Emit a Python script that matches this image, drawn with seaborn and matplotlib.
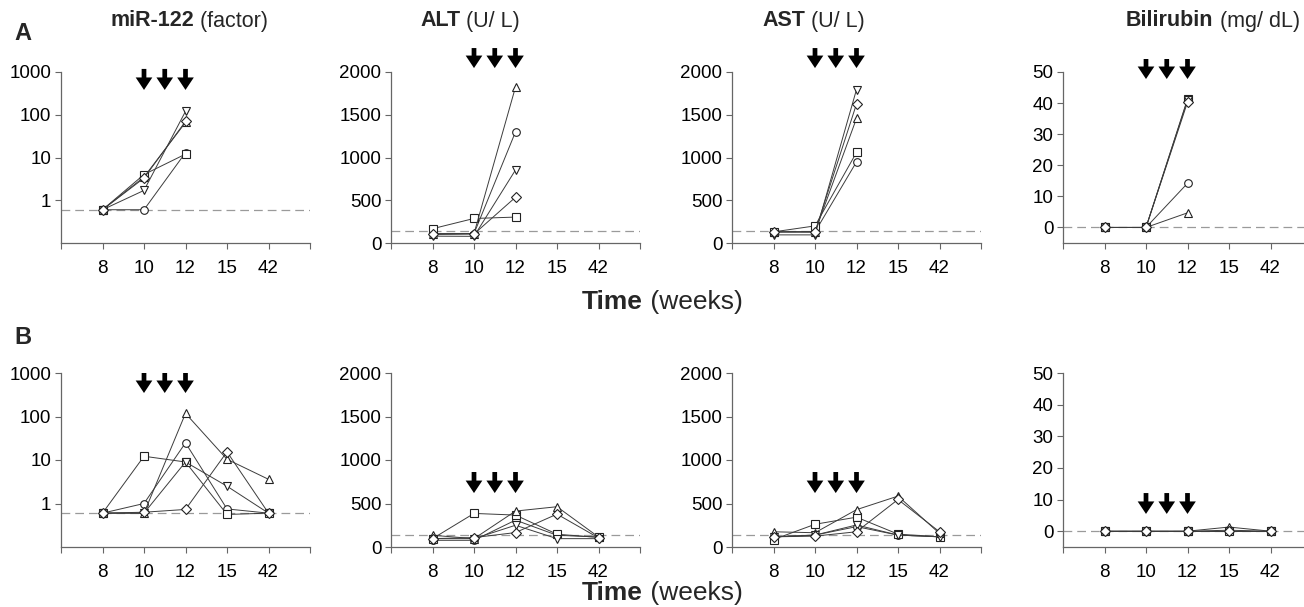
import numpy as np
import pandas as pd
import matplotlib
matplotlib.use("Agg")
import matplotlib.pyplot as plt
import seaborn as sns

sns.set_theme(style="white")
plt.rcParams['font.family'] = ['Liberation Sans', 'DejaVu Sans']

# ---------------- data ----------------
weeks = ["8", "10", "12", "15", "42"]
mice = ["circle", "square", "tri_up", "tri_down", "diamond"]
marker_map = {"circle": "o", "square": "s", "tri_up": "^", "tri_down": "v", "diamond": "D"}

# Row A (weeks 8, 10, 12)
a_mir = {"circle": [0.6, 0.6, 13], "square": [0.6, 4.0, 12], "tri_up": [0.6, 3.5, 66],
         "tri_down": [0.6, 1.7, 120], "diamond": [0.6, 3.3, 70]}
a_alt = {"circle": [105, 110, 1300], "square": [167, 287, 303], "tri_up": [110, 110, 1824],
         "tri_down": [80, 78, 854], "diamond": [100, 105, 535]}
a_ast = {"circle": [130, 130, 949], "square": [130, 200, 1059], "tri_up": [130, 130, 1457],
         "tri_down": [95, 95, 1795], "diamond": [130, 130, 1626]}
a_bil = {"circle": [0, 0, 14.2], "square": [0, 0, 41.3], "tri_up": [0, 0, 4.7],
         "tri_down": [0, 0, 41.0], "diamond": [0, 0, 40.3]}

# Row B (weeks 8, 10, 12, 15, 42)
b_mir = {"circle": [0.6, 1.0, 24.8, 0.75, 0.6], "square": [0.6, 12.2, 9.0, 0.56, 0.6],
         "tri_up": [0.6, 0.6, 118, 10.4, 3.6], "tri_down": [0.6, 0.6, 9.0, 2.5, 0.6],
         "diamond": [0.6, 0.63, 0.73, 15.4, 0.6]}
b_alt = {"circle": [77, 77, 309, 135, 115], "square": [96, 386, 367, 147, 110],
         "tri_up": [135, 96, 413, 463, 115], "tri_down": [96, 96, 250, 96, 96],
         "diamond": [96, 108, 166, 378, 105]}
b_ast = {"circle": [117, 137, 234, 137, 117], "square": [86, 261, 343, 148, 117],
         "tri_up": [175, 164, 429, 585, 156], "tri_down": [117, 137, 253, 137, 117],
         "diamond": [117, 125, 175, 546, 175]}
b_bil = {"circle": [0, 0, 0, 0.3, 0], "square": [0, 0, 0, 0, 0],
         "tri_up": [0, 0, 0, 1.3, 0], "tri_down": [0, 0, 0, 0, 0],
         "diamond": [0, 0, 0, 0, 0]}

baselines = {"mir": 0.6, "alt": 140, "ast": 140, "bil": 0}
titles = [("miR-122", " (factor)"), ("ALT", " (U/ L)"), ("AST", " (U/ L)"), ("Bilirubin", " (mg/ dL)")]
arrow_weeks_idx = [1, 1.5, 2]


def to_df(d):
    rows = []
    for m in mice:
        for i, v in enumerate(d[m]):
            rows.append({"mouse": m, "pos": i, "week": weeks[i], "value": v})
    return pd.DataFrame(rows)


# ---------------- figure ----------------
W, H = 1304, 607
fig = plt.figure(figsize=(W / 100, H / 100), dpi=100)

lefts = [61, 391, 732, 1063]
width = 249
rowA = (243, 171)   # bottom px, height px
rowB = (547, 174)

kinds = ["mir", "alt", "ast", "bil"]
data_rows = [[a_mir, a_alt, a_ast, a_bil], [b_mir, b_alt, b_ast, b_bil]]

# arrow positions in axes fraction (top, tip)
arrow_y = {
    0: {"mir": (1.018, 0.895), "alt": (1.14, 1.023), "ast": (1.14, 1.023), "bil": (1.076, 0.959)},
    1: {"mir": (1.0, 0.885), "alt": (0.431, 0.31), "ast": (0.431, 0.31), "bil": (0.31, 0.19)},
}

spine_col = "#666666"
axes_list = []
for r, (bot, hgt) in enumerate([rowA, rowB]):
    for c, kind in enumerate(kinds):
        ax = fig.add_axes([lefts[c] / W, (H - bot) / H, width / W, hgt / H])
        axes_list.append(ax)
        df = to_df(data_rows[r][c])
        ax.axhline(baselines[kind], color="#9a9a9a", lw=0.9, dashes=(7, 4), zorder=1)
        sns.lineplot(data=df, x="pos", y="value", hue="mouse", style="mouse",
                     palette=["#3c3c3c"] * 5, markers=marker_map, dashes=False,
                     estimator=None, sort=False, legend=False, ax=ax,
                     lw=0.7, markersize=5.5, markerfacecolor="white",
                     markeredgecolor="#222222", markeredgewidth=0.8, zorder=3)
        ax.set_xlim(-1, 5)
        ax.set_xticks(range(-1, 6))
        ax.set_xticklabels([""] + weeks + [""])
        if kind == "mir":
            ax.set_yscale("log")
            ax.set_ylim(0.1, 1000)
            ax.set_yticks([1, 10, 100, 1000])
            ax.set_yticklabels(["1", "10", "100", "1000"])
            ax.minorticks_off()
        elif kind in ("alt", "ast"):
            ax.set_ylim(0, 2000)
            ax.set_yticks([0, 500, 1000, 1500, 2000])
            ax.set_yticklabels(["0", "500", "1000", "1500", "2000"])
        else:
            ax.set_ylim(-5, 50)
            ax.set_yticks([0, 10, 20, 30, 40, 50])
            ax.set_yticklabels(["0", "10", "20", "30", "40", "50"])
        ax.set_xlabel("")
        ax.set_ylabel("")
        for s in ["top", "right"]:
            ax.spines[s].set_visible(False)
        for s in ["left", "bottom"]:
            ax.spines[s].set_color(spine_col)
            ax.spines[s].set_linewidth(0.9)
        ax.tick_params(axis="both", direction="out", length=4, width=0.8,
                       color=spine_col, labelsize=13.5, labelcolor="black", pad=3,
                       bottom=True, left=True)
        ax.tick_params(axis="x", pad=8)
        ax.set_facecolor("white")
        ax.patch.set_alpha(0)
        # arrows
        ytop, ytip = arrow_y[r][kind]
        for xa in arrow_weeks_idx:
            ax.annotate("", xy=(xa, ytip), xytext=(xa, ytop),
                        xycoords=ax.get_xaxis_transform(),
                        textcoords=ax.get_xaxis_transform(),
                        arrowprops=dict(facecolor="black", edgecolor="black",
                                        width=3.4, headwidth=12, headlength=9,
                                        shrink=0, lw=0),
                        annotation_clip=False)

# column titles (bold + regular)
title_x = [110, 420, 762, 1126]
for c, (b, rtxt) in enumerate(titles):
    t1 = fig.text(title_x[c] / W, 1 - 21 / H, b, fontsize=15.5, fontweight="bold",
                  ha="left", va="center")
    axes_list[c].annotate(rtxt, xy=(1, 0.5), xycoords=t1, fontsize=15.5,
                          ha="left", va="center", annotation_clip=False)

# panel letters
fig.text(23 / W, 1 - 34 / H, "A", fontsize=17, fontweight="bold", ha="center", va="center")
fig.text(23 / W, 1 - 338 / H, "B", fontsize=17, fontweight="bold", ha="center", va="center")

# time labels
for yy in (302, 593):
    tt = fig.text(582 / W, 1 - yy / H, "Time", fontsize=19, fontweight="bold",
                  ha="left", va="center")
    axes_list[0].annotate(" (weeks)", xy=(1, 0.5), xycoords=tt, fontsize=19,
                          ha="left", va="center", annotation_clip=False)

fig.savefig("out.png", dpi=100, facecolor="white")
